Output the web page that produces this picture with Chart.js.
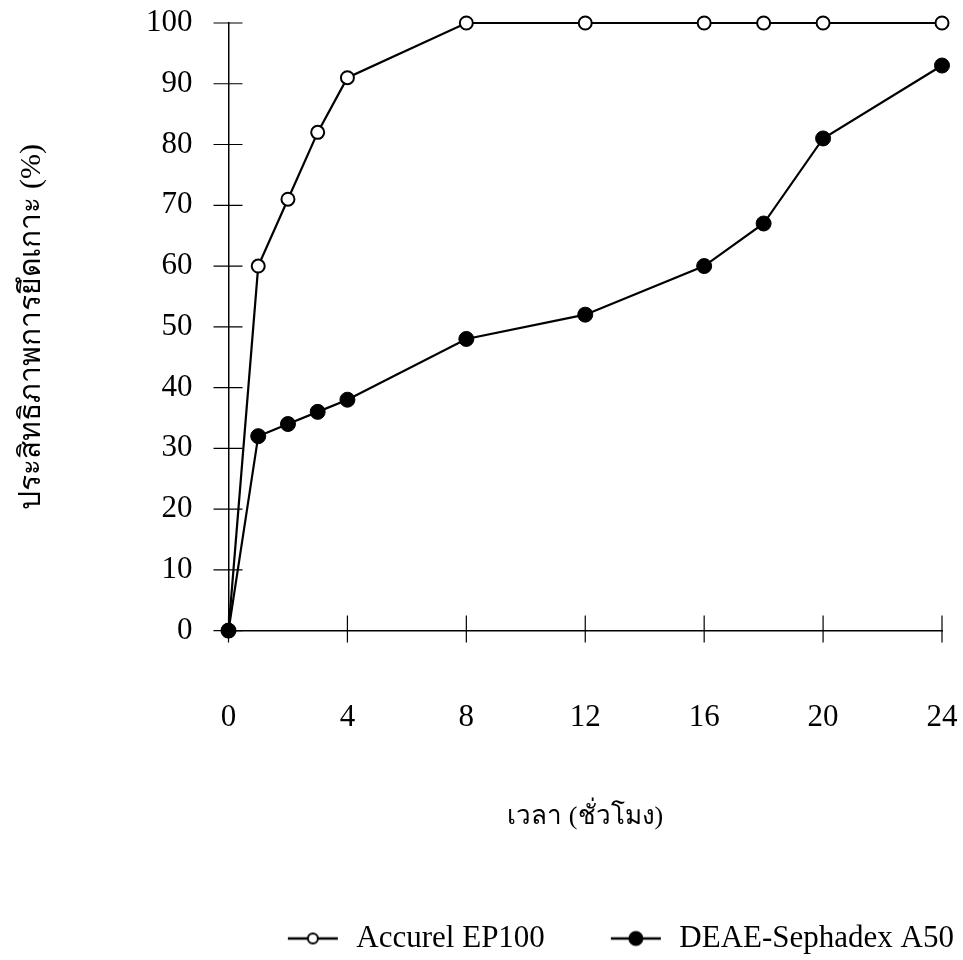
<!DOCTYPE html>
<html>
<head>
<meta charset="utf-8">
<script src="https://cdn.jsdelivr.net/npm/chart.js@4"></script>
<style>
    body { margin: 0; background: #fff; }
    #wrap { width: 963px; height: 960px; }
</style>
</head>
<body>
<div id="wrap"><canvas id="line-chart" width="963" height="960"></canvas></div>
<script>
const hours = [0, 1, 2, 3, 4, 8, 12, 16, 18, 20, 24];
const accurel = [0, 60, 71, 82, 91, 100, 100, 100, 100, 100, 100];
const deae = [0, 32, 34, 36, 38, 48, 52, 60, 67, 81, 93];
const seriesNames = ["Accurel EP100", "DEAE-Sephadex A50"];

const serif = "'Liberation Serif', 'Times New Roman', 'Noto Sans', serif";

// legend symbol: line with marker in the middle, drawn at the right of a wide
// transparent canvas so the two legend entries sit apart
function legendIcon(filled) {
    const c = document.createElement('canvas');
    c.width = 115;
    c.height = 20;
    const g = c.getContext('2d');
    const x0 = 62;
    g.strokeStyle = '#000';
    g.lineWidth = 2.5;
    g.beginPath();
    g.moveTo(x0, 10);
    g.lineTo(x0 + 50, 10);
    g.stroke();
    g.beginPath();
    g.arc(x0 + 25, 10, filled ? 6.5 : 5, 0, Math.PI * 2);
    g.fillStyle = filled ? '#000' : '#fff';
    g.fill();
    g.lineWidth = 2;
    g.stroke();
    return c;
}

// tick marks crossing the axis lines
const crossTicks = {
    id: 'crossTicks',
    afterDraw(chart) {
        const ctx = chart.ctx;
        const xs = chart.scales.x;
        const ys = chart.scales.y;
        ctx.save();
        ctx.strokeStyle = '#000';
        ctx.lineWidth = 1.2;
        ctx.beginPath();
        ys.ticks.forEach((t) => {
            const py = ys.getPixelForValue(t.value);
            ctx.moveTo(ys.right - 15, py);
            ctx.lineTo(ys.right + 14, py);
        });
        xs.ticks.forEach((t) => {
            const px = xs.getPixelForValue(t.value);
            ctx.moveTo(px, xs.top + 12);
            ctx.lineTo(px, xs.top - 15);
        });
        ctx.stroke();
        ctx.restore();
    }
};

new Chart(document.getElementById("line-chart"), {
    type: 'line',
    data: {
        datasets: [
            {
                label: seriesNames[0],
                data: hours.map((h, i) => ({ x: h, y: accurel[i] })),
                borderColor: '#000',
                borderWidth: 2.2,
                pointRadius: 6.5,
                pointBorderWidth: 2,
                pointBackgroundColor: '#fff',
                pointBorderColor: '#000',
                clip: false,
                order: 1
            },
            {
                label: seriesNames[1],
                data: hours.map((h, i) => ({ x: h, y: deae[i] })),
                borderColor: '#000',
                borderWidth: 2.2,
                pointRadius: 7.5,
                pointBorderWidth: 1,
                pointBackgroundColor: '#000',
                pointBorderColor: '#000',
                clip: false,
                order: 0
            }
        ]
    },
    options: {
        responsive: false,
        animation: false,
        layout: {
            padding: { top: 23, right: 5, left: 0, bottom: -4 }
        },
        plugins: {
            tooltip: { enabled: false },
            legend: {
                position: 'bottom',
                align: 'end',
                labels: {
                    color: '#000',
                    font: { family: serif, size: 31 },
                    usePointStyle: true,
                    pointStyleWidth: 115,
                    padding: 4,
                    generateLabels: (chart) => chart.data.datasets.map((ds, i) => ({
                        text: ds.label,
                        pointStyle: legendIcon(i === 1),
                        fontColor: '#000',
                        datasetIndex: i
                    }))
                }
            }
        },
        scales: {
            x: {
                type: 'linear',
                min: 0,
                max: 24,
                afterFit: (scale) => { scale.paddingRight = 21; },
                ticks: {
                    stepSize: 4,
                    color: '#000',
                    font: { family: serif, size: 31 },
                    padding: 0
                },
                grid: {
                    drawOnChartArea: false,
                    drawTicks: true,
                    tickLength: 69,
                    tickColor: 'rgba(0,0,0,0)'
                },
                border: { color: '#000', width: 1.5 },
                title: {
                    display: true,
                    text: 'เวลา (ชั่วโมง)',
                    color: '#000',
                    font: { family: serif, size: 26 },
                    padding: { top: 65, bottom: 86 }
                }
            },
            y: {
                min: 0,
                max: 100,
                ticks: {
                    stepSize: 10,
                    color: '#000',
                    font: { family: serif, size: 31 },
                    padding: 0
                },
                grid: {
                    drawOnChartArea: false,
                    drawTicks: true,
                    tickLength: 36,
                    tickColor: 'rgba(0,0,0,0)'
                },
                border: { color: '#000', width: 1.5 },
                title: {
                    display: true,
                    text: 'ประสิทธิภาพการยึดเกาะ (%)',
                    color: '#000',
                    font: { family: serif, size: 30 },
                    padding: { top: 14, bottom: 96 }
                }
            }
        }
    },
    plugins: [crossTicks]
});
</script>
</body>
</html>
